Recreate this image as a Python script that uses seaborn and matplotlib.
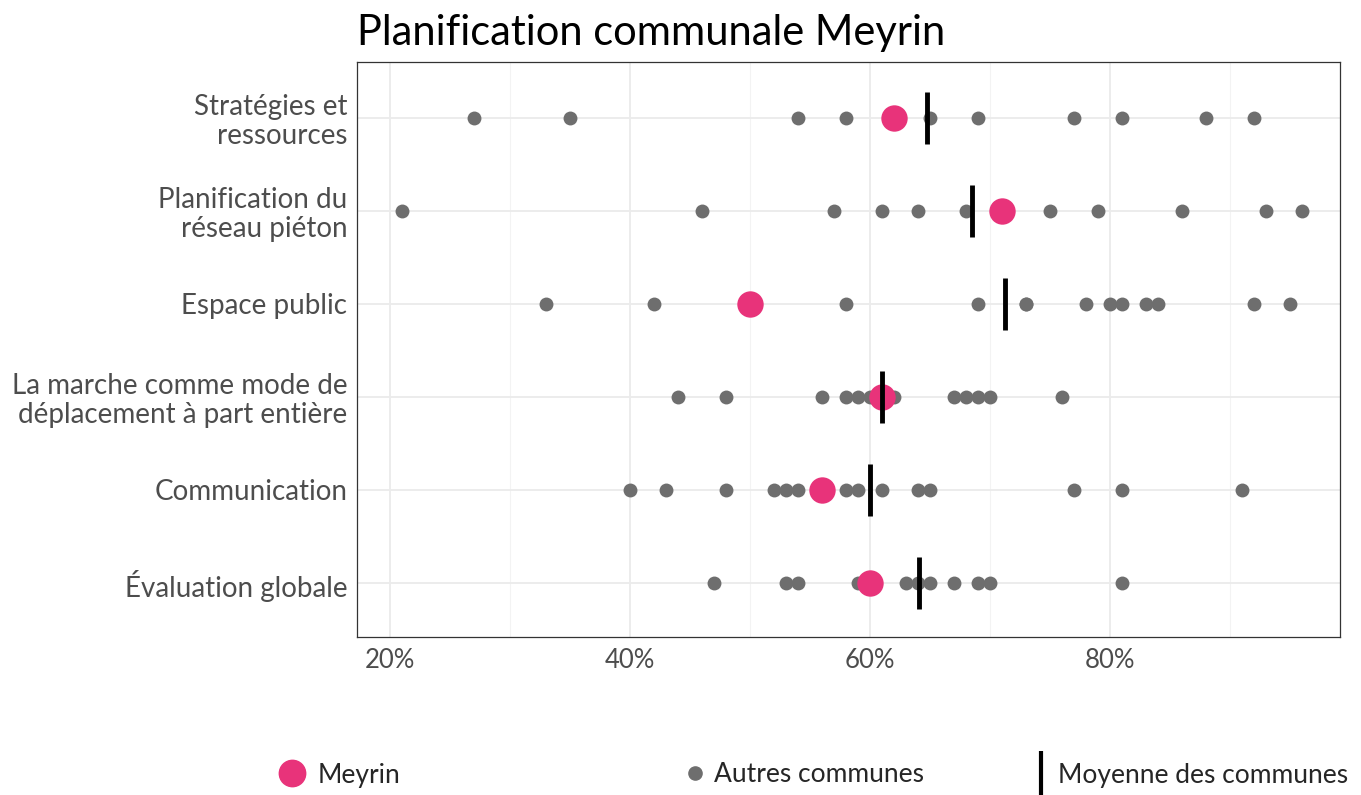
import numpy as np
import pandas as pd
import matplotlib
matplotlib.use("Agg")
import matplotlib.pyplot as plt
from matplotlib.lines import Line2D
import seaborn as sns

# categories, top to bottom
categories = [
    "Stratégies et\nressources",
    "Planification du\nréseau piéton",
    "Espace public",
    "La marche comme mode de\ndéplacement à part entière",
    "Communication",
    "Évaluation globale",
]

# scores of the other communes (%)
autres = [
    [27, 35, 54, 58, 65, 69, 77, 81, 88, 92],
    [21, 46, 57, 61, 64, 68, 75, 79, 86, 93, 96],
    [33, 42, 58, 69, 73, 73, 78, 80, 81, 83, 84, 92, 95],
    [44, 48, 56, 58, 59, 60, 62, 67, 68, 69, 70, 76],
    [40, 43, 48, 52, 53, 54, 58, 59, 61, 64, 65, 77, 81, 91],
    [47, 53, 54, 59, 63, 64, 65, 67, 69, 70, 81],
]
meyrin = [62, 71, 50, 61, 56, 60]
moyenne = [64.8, 68.5, 71.3, 61, 60, 64.1]

PINK = "#E8337A"
GREY = "#6E6E6E"

df_autres = pd.DataFrame(
    [(c, v) for c, vals in zip(categories, autres) for v in vals],
    columns=["categorie", "valeur"],
)
df_meyrin = pd.DataFrame({"categorie": categories, "valeur": meyrin})
df_moy = pd.DataFrame({"categorie": categories, "valeur": moyenne})

sns.set_theme(style="white")
plt.rcParams["font.family"] = ["Lato", "DejaVu Sans"]

W, H = 1361, 795
fig = plt.figure(figsize=(W / 100, H / 100), dpi=100)
ax = fig.add_axes([357 / W, 1 - 637 / H, (1340 - 357) / W, (637 - 62) / H])

sns.stripplot(data=df_autres, x="valeur", y="categorie", order=categories,
              jitter=False, color=GREY, size=10, linewidth=0, ax=ax, zorder=3)
sns.stripplot(data=df_meyrin, x="valeur", y="categorie", order=categories,
              jitter=False, color=PINK, size=19, linewidth=0, ax=ax, zorder=4)
sns.stripplot(data=df_moy, x="valeur", y="categorie", order=categories,
              jitter=False, color="black", edgecolor="black", marker="|",
              size=38, linewidth=3.5, ax=ax, zorder=5)

ax.set_xlim(17.25, 99.2)
ax.set_ylim(5.58, -0.6)
ax.set_xticks([20, 40, 60, 80])
ax.set_xticklabels(["20%", "40%", "60%", "80%"])
ax.set_xticks([30, 50, 70, 90], minor=True)
ax.set_xlabel("")
ax.set_ylabel("")

ax.grid(True, which="major", axis="both", color="#EBEBEB", lw=1.3, zorder=0)
ax.grid(True, which="minor", axis="x", color="#F3F3F3", lw=0.8, zorder=0)
ax.set_axisbelow(True)

for s in ax.spines.values():
    s.set_color("#333333")
    s.set_linewidth(0.9)

ax.tick_params(which="major", length=4, width=0.9, color="#333333",
               labelcolor="#4D4D4D")
ax.tick_params(axis="x", labelsize=18.5, pad=4)
ax.tick_params(axis="y", labelsize=20, pad=3)
ax.tick_params(which="minor", length=0)
for t in ax.get_yticklabels():
    t.set_linespacing(1.12)

fig.text(357 / W, 1 - 45 / H, "Planification communale Meyrin",
         fontsize=30, color="black", ha="left", va="baseline")

# legend at the bottom
items = [
    (Line2D([], [], marker="o", ls="", color=PINK, markersize=19), "Meyrin", 279, 0.45),
    (Line2D([], [], marker="o", ls="", color=GREY, markersize=9.5), "Autres communes", 682, 0.21),
    (Line2D([], [], marker="|", ls="", color="black", markersize=32,
            markeredgewidth=3), "Moyenne des communes", 1028, 0.13),
]
for h, lab, x0, pad in items:
    fig.legend([h], [lab], loc="center left", bbox_to_anchor=(x0 / W, 1 - 775 / H),
               frameon=False, fontsize=19, handlelength=1.0, handletextpad=pad,
               borderpad=0, borderaxespad=0)

fig.savefig("out.png", dpi=100)
